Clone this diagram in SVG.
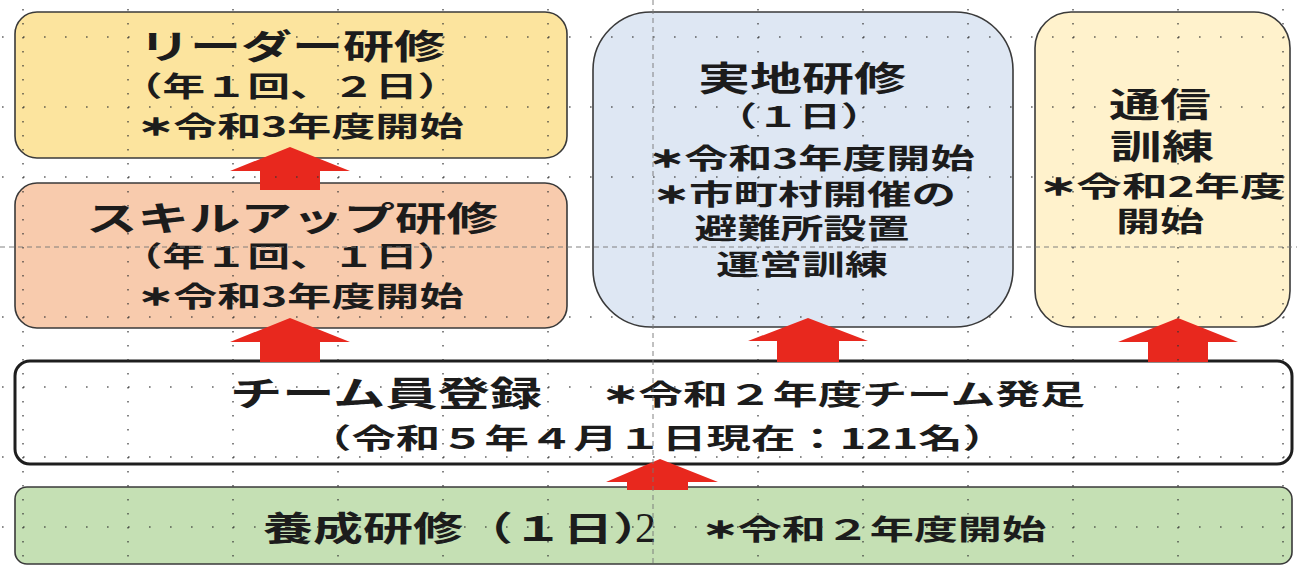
<svg xmlns="http://www.w3.org/2000/svg" width="1297" height="566" viewBox="0 0 1297 566">
<style>
text { font-family: "Noto Sans CJK JP", "Noto Sans CJK SC", sans-serif; font-weight: 700; fill: #1c1c1c; }
.h { font-size: 34px; }
.b { font-size: 28px; }
.ast { font-size: 22px; stroke: #1c1c1c; stroke-width: 1.4; }
.box { stroke: #3a3a3a; stroke-width: 1.6; }
.arrow { fill: #E8281E; }
.gv { stroke: #333; stroke-width: 1.6; stroke-dasharray: 1.6 12.4; opacity: 0.75; }
.gh { stroke: #333; stroke-width: 1.6; stroke-dasharray: 1.6 19.4; opacity: 0.75; }
.gd { stroke: #777; stroke-width: 1; stroke-dasharray: 5 4; opacity: 0.9; }
</style>
<rect width="1297" height="566" fill="#ffffff"/>

<g id="leader">
  <rect class="box" x="15" y="12" width="552" height="146" rx="22" fill="#FCE49E"/>
  <text class="h" x="292" y="59" text-anchor="middle" textLength="306" lengthAdjust="spacingAndGlyphs">リーダー研修</text>
  <text class="b" x="290" y="97" text-anchor="middle" textLength="340" lengthAdjust="spacingAndGlyphs">（年１回、２日）</text>
  <text class="b" x="301" y="137" text-anchor="middle" textLength="325" lengthAdjust="spacingAndGlyphs"><tspan class="ast" dy="-2">＊</tspan><tspan dy="2">令和3年度開始</tspan></text>
</g>

<g id="skillup">
  <rect class="box" x="15" y="183" width="552" height="145" rx="22" fill="#F8CBAD"/>
  <text class="h" x="292" y="231" text-anchor="middle" textLength="412" lengthAdjust="spacingAndGlyphs">スキルアップ研修</text>
  <text class="b" x="290" y="267" text-anchor="middle" textLength="340" lengthAdjust="spacingAndGlyphs">（年１回、１日）</text>
  <text class="b" x="301" y="307" text-anchor="middle" textLength="325" lengthAdjust="spacingAndGlyphs"><tspan class="ast" dy="-2">＊</tspan><tspan dy="2">令和3年度開始</tspan></text>
</g>

<g id="jicchi">
  <rect class="box" x="593" y="12" width="420" height="315" rx="58" fill="#DEE7F3"/>
  <text class="h" x="802" y="91" text-anchor="middle" textLength="208" lengthAdjust="spacingAndGlyphs">実地研修</text>
  <text class="b" x="799" y="127" text-anchor="middle" textLength="168" lengthAdjust="spacingAndGlyphs">（１日）</text>
  <text class="b" x="812" y="169" text-anchor="middle" textLength="325" lengthAdjust="spacingAndGlyphs"><tspan class="ast" dy="-2">＊</tspan><tspan dy="2">令和3年度開始</tspan></text>
  <text class="b" x="805" y="205" text-anchor="middle" textLength="302" lengthAdjust="spacingAndGlyphs"><tspan class="ast" dy="-2">＊</tspan><tspan dy="2">市町村開催の</tspan></text>
  <text class="b" x="802" y="239" text-anchor="middle" textLength="215" lengthAdjust="spacingAndGlyphs">避難所設置</text>
  <text class="b" x="802" y="275" text-anchor="middle" textLength="172" lengthAdjust="spacingAndGlyphs">運営訓練</text>
</g>

<g id="tsushin">
  <rect class="box" x="1035" y="12" width="255" height="315" rx="36" fill="#FFF2CC"/>
  <text class="h" x="1160" y="117" text-anchor="middle" textLength="102" lengthAdjust="spacingAndGlyphs">通信</text>
  <text class="h" x="1162" y="159" text-anchor="middle" textLength="104" lengthAdjust="spacingAndGlyphs">訓練</text>
  <text class="b" x="1163" y="197" text-anchor="middle" textLength="245" lengthAdjust="spacingAndGlyphs"><tspan class="ast" dy="-2">＊</tspan><tspan dy="2">令和2年度</tspan></text>
  <text class="b" x="1160" y="232" text-anchor="middle" textLength="88" lengthAdjust="spacingAndGlyphs">開始</text>
</g>

<g id="team">
  <rect x="15" y="361" width="1277" height="103" rx="15" fill="#ffffff" stroke="#1e1e1e" stroke-width="3"/>
  <text class="h" x="230" y="406" textLength="312" lengthAdjust="spacingAndGlyphs">チーム員登録</text>
  <text class="b" x="603" y="405" textLength="482" lengthAdjust="spacingAndGlyphs"><tspan class="ast" dy="-2">＊</tspan><tspan dy="2">令和２年度チーム発足</tspan></text>
  <text class="b" x="657" y="449" text-anchor="middle" textLength="700" lengthAdjust="spacingAndGlyphs">（令和５年４月１日現在：121名）</text>
</g>

<g id="yousei">
  <rect class="box" x="15" y="487" width="1277" height="77" rx="12" fill="#C5E0B4"/>
  <text class="h" x="263" y="541" textLength="400" lengthAdjust="spacingAndGlyphs">養成研修（１日）</text>
  <text x="635" y="542" style="font-family: 'Liberation Serif', serif; font-weight: 400; font-size: 42px;">2</text>
  <text class="b" x="703" y="540" textLength="343" lengthAdjust="spacingAndGlyphs"><tspan class="ast" dy="-2">＊</tspan><tspan dy="2">令和２年度開始</tspan></text>
</g>

<g id="connectors">
  <polygon class="arrow" points="290,147 350,171 320,171 320,190 260,190 260,171 230,171"/>
  <polygon class="arrow" points="290,318 350,342 320,342 320,362 260,362 260,342 230,342"/>
  <polygon class="arrow" points="808,318 868,341 839,341 839,362 777,362 777,341 748,341"/>
  <polygon class="arrow" points="1178,318 1238,342 1208,342 1208,362 1148,362 1148,342 1118,342"/>
  <polygon class="arrow" points="660,459 718,482 688,482 688,490 627,490 627,482 606,482"/>
</g>

<g id="grid">
  <g>
    <line class="gv" x1="23" y1="-5" x2="23" y2="566"/>
    <line class="gv" x1="128" y1="-5" x2="128" y2="566"/>
    <line class="gv" x1="233" y1="-5" x2="233" y2="566"/>
    <line class="gv" x1="338" y1="-5" x2="338" y2="566"/>
    <line class="gv" x1="443" y1="-5" x2="443" y2="566"/>
    <line class="gv" x1="548" y1="-5" x2="548" y2="566"/>
    <line class="gv" x1="758" y1="-5" x2="758" y2="566"/>
    <line class="gv" x1="863" y1="-5" x2="863" y2="566"/>
    <line class="gv" x1="968" y1="-5" x2="968" y2="566"/>
    <line class="gv" x1="1073" y1="-5" x2="1073" y2="566"/>
    <line class="gv" x1="1178" y1="-5" x2="1178" y2="566"/>
    <line class="gv" x1="1283" y1="-5" x2="1283" y2="566"/>
  </g>
  <g>
    <line class="gh" x1="2" y1="37" x2="1297" y2="37"/>
    <line class="gh" x1="2" y1="107" x2="1297" y2="107"/>
    <line class="gh" x1="2" y1="177" x2="1297" y2="177"/>
    <line class="gh" x1="2" y1="317" x2="1297" y2="317"/>
    <line class="gh" x1="2" y1="387" x2="1297" y2="387"/>
    <line class="gh" x1="2" y1="457" x2="1297" y2="457"/>
    <line class="gh" x1="2" y1="527" x2="1297" y2="527"/>
  </g>
  <line class="gd" x1="653" y1="0" x2="653" y2="566"/>
  <line class="gd" x1="0" y1="247" x2="1297" y2="247"/>
</g>
</svg>
